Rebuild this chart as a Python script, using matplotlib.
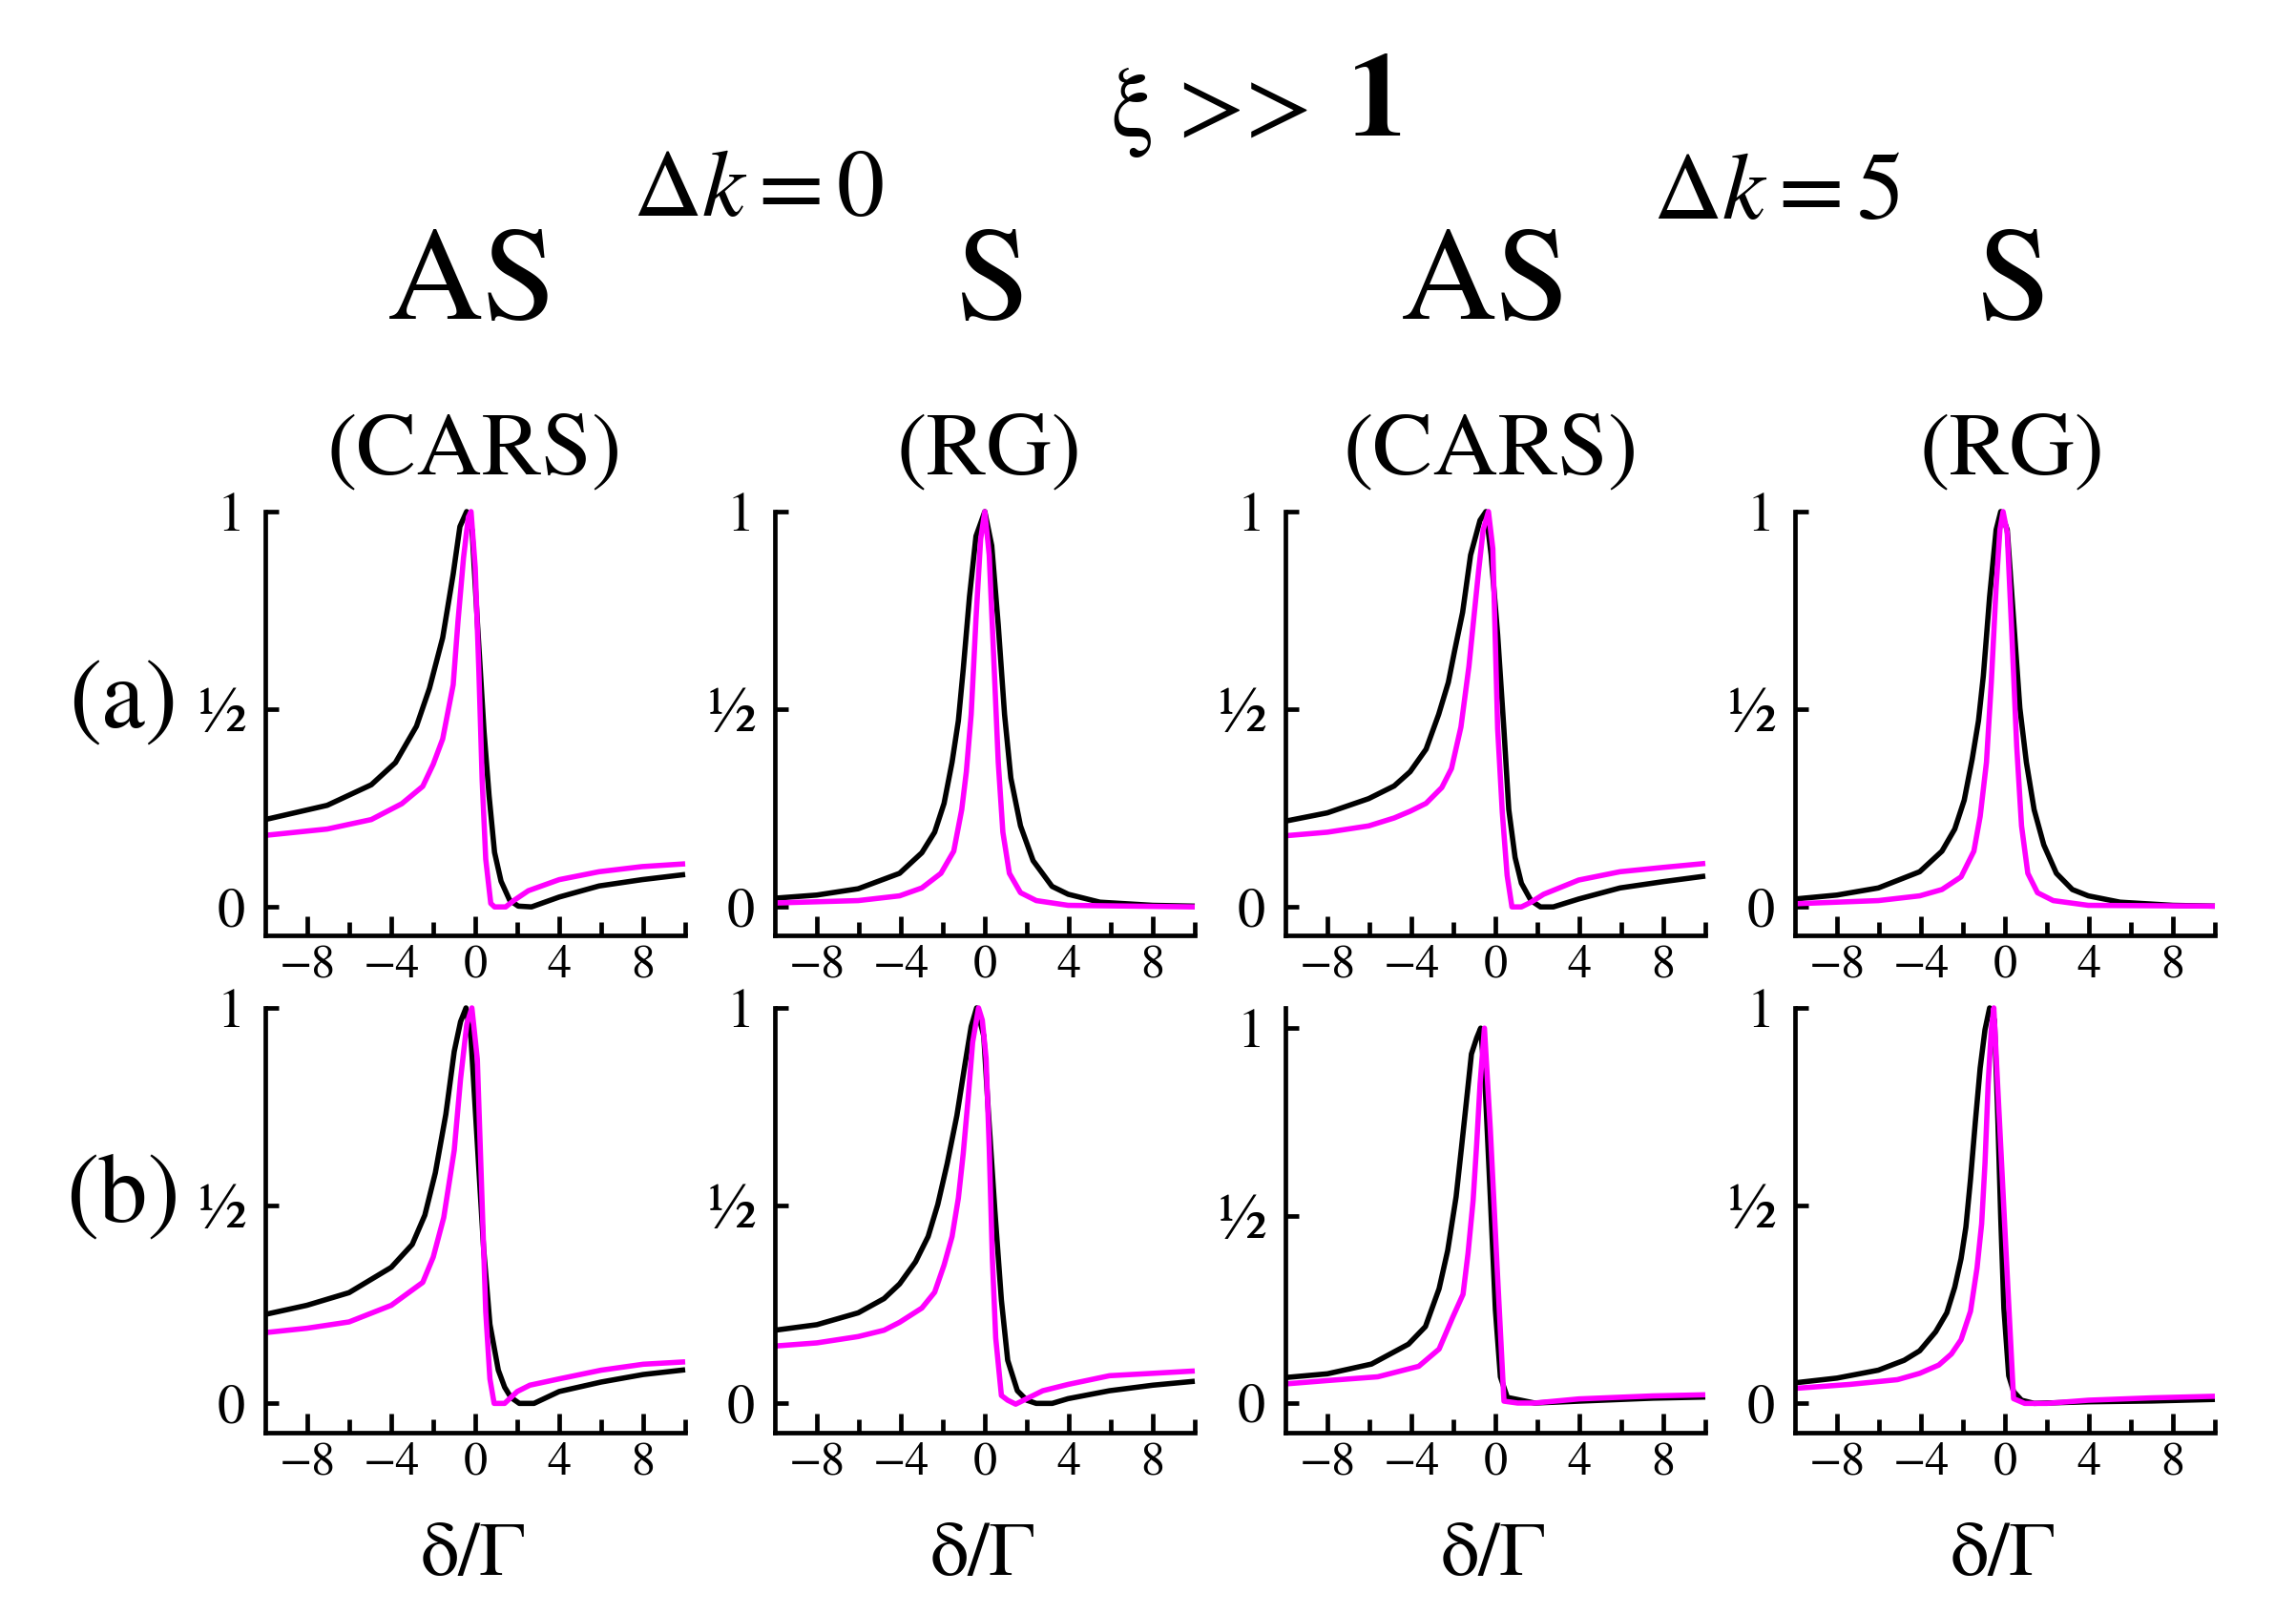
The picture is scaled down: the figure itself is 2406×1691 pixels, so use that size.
import matplotlib
matplotlib.use("Agg")
import matplotlib.pyplot as plt

plt.rcParams['font.family'] = ['STIXGeneral', 'DejaVu Serif']
plt.rcParams['mathtext.fontset'] = 'stix'

# ---------------- data ----------------
# Row (a), column 1: AS (CARS), dk = 0
a1_bx = [-10, -7.05, -4.95, -3.8, -2.8, -2.18, -1.55, -1.05, -0.73, -0.41, -0.15, 0.1, 0.42, 0.66, 0.92, 1.23, 1.64, 2.05, 2.68, 4.0, 5.9, 7.95, 10]
a1_by = [0.221, 0.257, 0.309, 0.365, 0.457, 0.553, 0.681, 0.842, 0.962, 1.0, 0.953, 0.723, 0.443, 0.281, 0.138, 0.065, 0.017, 0.002, 0.0, 0.025, 0.053, 0.069, 0.082]
a1_mx = [-10, -7.05, -4.95, -3.5, -2.5, -2.0, -1.55, -1.05, -0.82, -0.56, -0.33, -0.2, 0.0, 0.17, 0.33, 0.5, 0.74, 0.92, 1.45, 1.86, 2.53, 4.0, 5.9, 7.95, 10]
a1_my = [0.181, 0.197, 0.221, 0.261, 0.305, 0.361, 0.425, 0.562, 0.723, 0.882, 0.986, 1.0, 0.858, 0.602, 0.321, 0.121, 0.009, 0.0, 0.0, 0.017, 0.041, 0.069, 0.089, 0.102, 0.109]

# Row (a), column 2: S (RG), dk = 0
a2_bx = [-10, -8, -6.03, -4.06, -3.0, -2.39, -1.94, -1.56, -1.26, -1.03, -0.73, -0.42, 0, 0.33, 0.64, 0.94, 1.24, 1.7, 2.3, 3.2, 3.97, 5.48, 8, 10]
a2_by = [0.022, 0.030, 0.046, 0.085, 0.137, 0.189, 0.262, 0.366, 0.471, 0.6, 0.785, 0.938, 1.0, 0.914, 0.713, 0.487, 0.326, 0.205, 0.117, 0.052, 0.032, 0.012, 0.004, 0.002]
a2_mx = [-10, -6.03, -4.06, -3.0, -2.09, -1.48, -1.1, -0.88, -0.65, -0.42, -0.2, 0, 0.21, 0.41, 0.64, 0.86, 1.17, 1.7, 2.45, 3.97, 10]
a2_my = [0.010, 0.016, 0.028, 0.048, 0.085, 0.141, 0.246, 0.342, 0.487, 0.729, 0.93, 1.0, 0.89, 0.648, 0.366, 0.189, 0.085, 0.036, 0.016, 0.004, 0.0]

# Row (a), column 3: AS (CARS), dk = 5
a3_bx = [-10, -8, -6.03, -4.82, -4.06, -3.3, -2.7, -2.24, -1.94, -1.56, -1.18, -0.73, -0.45, -0.2, 0.11, 0.41, 0.64, 0.94, 1.24, 1.7, 2.15, 2.76, 3.97, 5.94, 8, 10]
a3_by = [0.217, 0.238, 0.274, 0.306, 0.342, 0.399, 0.487, 0.568, 0.648, 0.745, 0.89, 0.978, 1.0, 0.89, 0.688, 0.447, 0.246, 0.125, 0.06, 0.016, 0.0, 0.0, 0.02, 0.048, 0.064, 0.078]
a3_mx = [-10, -8, -6.03, -4.82, -4.06, -3.3, -2.55, -2.09, -1.64, -1.26, -1.03, -0.8, -0.58, -0.33, -0.12, 0.11, 0.33, 0.56, 0.79, 1.24, 1.7, 2.3, 3.97, 5.94, 8, 10]
a3_my = [0.18, 0.189, 0.205, 0.225, 0.242, 0.262, 0.302, 0.35, 0.455, 0.608, 0.729, 0.849, 0.954, 1.0, 0.906, 0.45, 0.24, 0.08, 0.0, 0.0, 0.012, 0.032, 0.068, 0.089, 0.1, 0.11]

# Row (a), column 4: S (RG), dk = 5
a4_bx = [-10, -8, -6.03, -4.06, -3.0, -2.39, -1.94, -1.56, -1.26, -1.03, -0.73, -0.42, -0.2, 0.11, 0.41, 0.71, 1.02, 1.39, 1.85, 2.45, 3.21, 3.97, 5.48, 8, 10]
a4_by = [0.02, 0.03, 0.048, 0.089, 0.141, 0.197, 0.27, 0.374, 0.471, 0.584, 0.785, 0.954, 1.0, 0.954, 0.729, 0.503, 0.366, 0.246, 0.157, 0.085, 0.044, 0.028, 0.012, 0.004, 0.002]
a4_mx = [-10, -6.03, -4.06, -3.0, -2.09, -1.48, -1.18, -0.88, -0.65, -0.42, -0.24, -0.09, 0.11, 0.33, 0.56, 0.79, 1.09, 1.55, 2.3, 3.97, 10]
a4_my = [0.008, 0.016, 0.028, 0.044, 0.076, 0.141, 0.229, 0.366, 0.568, 0.809, 0.954, 1.0, 0.946, 0.688, 0.407, 0.205, 0.085, 0.036, 0.016, 0.004, 0.002]

# Row (b), column 1
b1_bx = [-10, -8.02, -6.01, -4.0, -3.0, -2.4, -1.9, -1.4, -1.0, -0.7, -0.44, -0.2, 0.1, 0.4, 0.7, 1.1, 1.4, 1.7, 2.1, 2.8, 4.0, 6.0, 8.0, 10]
b1_by = [0.225, 0.248, 0.28, 0.344, 0.402, 0.476, 0.583, 0.731, 0.89, 0.965, 1.0, 0.922, 0.657, 0.391, 0.2, 0.084, 0.041, 0.015, 0.0, 0.0, 0.03, 0.054, 0.073, 0.085]
b1_mx = [-10, -8.02, -6.01, -4.0, -2.5, -2.0, -1.5, -1.0, -0.7, -0.4, -0.16, 0.1, 0.3, 0.5, 0.7, 0.9, 1.4, 2.0, 2.6, 4.0, 6.0, 8.0, 10]
b1_my = [0.179, 0.19, 0.206, 0.248, 0.306, 0.37, 0.47, 0.64, 0.82, 0.96, 1.0, 0.87, 0.551, 0.232, 0.062, 0.0, 0.0, 0.03, 0.046, 0.062, 0.084, 0.099, 0.105]

# Row (b), column 2
b2_bx = [-10, -8, -6.03, -4.8, -4.06, -3.3, -2.7, -2.24, -1.79, -1.33, -0.95, -0.65, -0.39, -0.05, 0.18, 0.48, 0.79, 1.09, 1.55, 2.0, 2.45, 3.21, 3.97, 5.94, 8, 10]
b2_by = [0.185, 0.199, 0.229, 0.265, 0.302, 0.358, 0.422, 0.503, 0.607, 0.728, 0.856, 0.953, 1.0, 0.929, 0.728, 0.487, 0.261, 0.109, 0.032, 0.008, 0.0, 0.0, 0.012, 0.032, 0.046, 0.056]
b2_mx = [-10, -8, -6.03, -4.8, -4.06, -3.0, -2.39, -1.94, -1.56, -1.26, -1.03, -0.8, -0.58, -0.3, -0.12, 0.06, 0.21, 0.36, 0.52, 0.79, 1.09, 1.47, 2.0, 2.76, 3.97, 5.94, 8, 10]
b2_my = [0.145, 0.153, 0.169, 0.185, 0.205, 0.241, 0.281, 0.35, 0.422, 0.519, 0.631, 0.768, 0.913, 1.0, 0.969, 0.873, 0.647, 0.366, 0.165, 0.02, 0.008, -0.002, 0.012, 0.032, 0.048, 0.07, 0.076, 0.082]

# Row (b), column 3
b3_bx = [-10, -8, -5.9, -4.14, -3.33, -2.68, -2.27, -1.87, -1.62, -1.38, -1.14, -0.89, -0.7, -0.49, -0.24, 0.0, 0.24, 0.57, 1.87, 3.98, 7.5, 10]
b3_by = [0.068, 0.078, 0.104, 0.157, 0.204, 0.305, 0.407, 0.55, 0.678, 0.804, 0.931, 0.974, 1.0, 0.85, 0.55, 0.25, 0.07, 0.015, 0.0, 0.005, 0.013, 0.016]
b3_mx = [-10, -8, -5.6, -3.65, -2.68, -2.03, -1.54, -1.3, -1.06, -0.89, -0.73, -0.52, -0.24, 0.08, 0.41, 1.06, 1.87, 3.98, 7.5, 10]
b3_my = [0.051, 0.06, 0.07, 0.098, 0.144, 0.229, 0.29, 0.40, 0.54, 0.69, 0.85, 1.0, 0.73, 0.367, 0.005, 0.0, 0.0, 0.011, 0.019, 0.022]

# Row (b), column 4
b4_bx = [-10, -8, -6.03, -4.8, -4.06, -3.3, -2.77, -2.39, -2.09, -1.86, -1.64, -1.41, -1.18, -0.95, -0.73, -0.5, -0.35, -0.2, -0.05, 0.18, 0.41, 0.79, 1.39, 3.97, 7.0, 10]
b4_by = [0.052, 0.064, 0.084, 0.109, 0.133, 0.181, 0.229, 0.294, 0.366, 0.446, 0.567, 0.712, 0.848, 0.945, 1.0, 0.969, 0.74, 0.47, 0.24, 0.07, 0.03, 0.008, 0.0, 0.004, 0.006, 0.01]
b4_mx = [-10, -7.39, -5.12, -4.06, -3.15, -2.55, -2.09, -1.64, -1.33, -1.11, -0.95, -0.8, -0.65, -0.53, -0.35, -0.05, 0.18, 0.41, 0.94, 2.0, 3.97, 7.0, 10]
b4_my = [0.038, 0.048, 0.06, 0.076, 0.097, 0.125, 0.161, 0.233, 0.342, 0.454, 0.607, 0.808, 0.945, 1.0, 0.808, 0.49, 0.25, 0.012, 0.0, 0.0, 0.008, 0.014, 0.018]

# text content
title_left = "ξ >>"
title_right = "1"
dk_labels = [r"$\Delta k = 0$", r"$\Delta k = 5$"]
col_heads = ["AS", "S", "AS", "S"]
col_subs = ["(CARS)", "(RG)", "(CARS)", "(RG)"]
row_labels = ["(a)", "(b)"]
xlabel = "δ/Γ"
xticks_major = [-8, -4, 0, 4, 8]
xticks_minor = [-6, -2, 2, 6, 10]
xtick_labels = ["\u22128", "\u22124", "0", "4", "8"]
yticks = [0, 0.5, 1]
ytick_labels = ["0", "½", "1"]

panels = {
    (0, 0): (a1_bx, a1_by, a1_mx, a1_my),
    (0, 1): (a2_bx, a2_by, a2_mx, a2_my),
    (0, 2): (a3_bx, a3_by, a3_mx, a3_my),
    (0, 3): (a4_bx, a4_by, a4_mx, a4_my),
    (1, 0): (b1_bx, b1_by, b1_mx, b1_my),
    (1, 1): (b2_bx, b2_by, b2_mx, b2_my),
    (1, 2): (b3_bx, b3_by, b3_mx, b3_my),
    (1, 3): (b4_bx, b4_by, b4_mx, b4_my),
}

# ---------------- layout ----------------
W, H = 2406, 1691
fig = plt.figure(figsize=(W / 100, H / 100), dpi=100)
fig.patch.set_facecolor("white")


def fx(px):
    return px / W


def fy(py):
    return 1 - py / H


col_left = [278, 812, 1347, 1881]
col_w = 440
row_top = [536, 1056]
row_h = [444, 445]
ylims = {(0, c): (-0.072, 1.0) for c in range(4)}
ylims.update({(1, c): (-0.074, 1.0) for c in range(4)})
ylims[(1, 2)] = (-0.079, 1.054)

MAG = "#FF00FF"
LW = 4.0
for (r, c), (bx, by, mx, my) in panels.items():
    ax = fig.add_axes([fx(col_left[c]), fy(row_top[r] + row_h[r]), col_w / W, row_h[r] / H])
    ax.plot(bx, by, color="black", lw=LW, clip_on=False, solid_joinstyle="round", solid_capstyle="butt")
    ax.plot(mx, my, color=MAG, lw=LW, clip_on=False, solid_joinstyle="round", solid_capstyle="butt")
    ax.set_xlim(-10, 10)
    ax.set_ylim(*ylims[(r, c)])
    for s in ["top", "right"]:
        ax.spines[s].set_visible(False)
    for s in ["left", "bottom"]:
        ax.spines[s].set_linewidth(3.4)
    ax.set_xticks(xticks_major)
    ax.set_xticks(xticks_minor, minor=True)
    ax.set_xticklabels(xtick_labels)
    ax.set_yticks(yticks)
    ax.set_yticklabels(ytick_labels)
    ax.tick_params(axis="y", direction="in", length=10, width=3.4, pad=15, labelsize=42)
    ax.tick_params(axis="x", which="major", direction="in", length=14.5, width=3.4, pad=7, labelsize=36)
    ax.tick_params(axis="x", which="minor", direction="in", length=10, width=3.4)
    for lab in ax.get_yticklabels():
        if lab.get_text() == "½":
            lab.set_fontsize(48)
    ax.patch.set_alpha(0)

# ---------------- texts ----------------
fig.text(fx(1376), fy(142), title_left, ha="right", va="baseline", fontsize=74)
fig.text(fx(1412), fy(142), title_right, ha="left", va="baseline", fontsize=90, fontweight="bold")

fig.text(fx(795), fy(226), dk_labels[0], ha="center", va="baseline", fontsize=72)
fig.text(fx(1862), fy(229), dk_labels[1], ha="center", va="baseline", fontsize=72)

head_x = [495, 1040, 1557, 2110]
sub_x = [497, 1036, 1562, 2109]
for i in range(4):
    fig.text(fx(head_x[i]), fy(334), col_heads[i], ha="center", va="baseline", fontsize=100)
    fig.text(fx(sub_x[i]), fy(496), col_subs[i], ha="center", va="baseline", fontsize=68)
    fig.text(fx(col_left[i] + col_w / 2 - 2), fy(1650), xlabel, ha="center", va="baseline", fontsize=58)

fig.text(fx(129), fy(763), row_labels[0], ha="center", va="baseline", fontsize=74)
fig.text(fx(129), fy(1280), row_labels[1], ha="center", va="baseline", fontsize=74)

fig.savefig("out.png", dpi=100, facecolor="white")
